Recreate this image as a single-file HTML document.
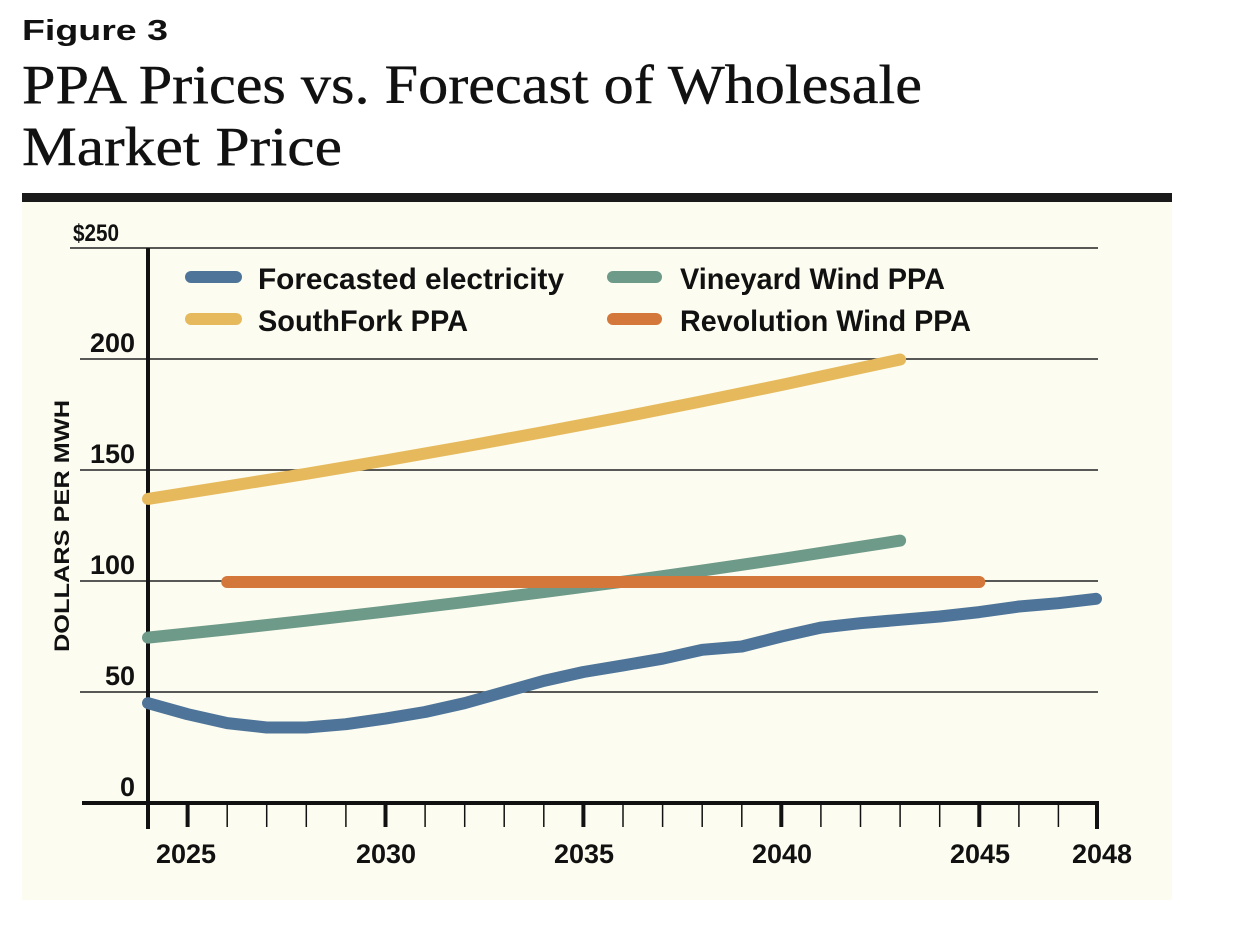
<!DOCTYPE html>
<html><head><meta charset="utf-8"><style>
html,body{margin:0;padding:0;background:#fff;}
svg{display:block;}
</style></head><body>
<svg width="1250" height="932" xmlns="http://www.w3.org/2000/svg">
<rect width="1250" height="932" fill="#fff"/>
<text x="22" y="40" font-family="Liberation Sans, sans-serif" font-weight="bold" font-size="29" fill="#111" textLength="146" lengthAdjust="spacingAndGlyphs">Figure 3</text>
<text x="22" y="103" font-family="Liberation Serif, serif" font-size="55" fill="#111" stroke="#111" stroke-width="0.4" textLength="900" lengthAdjust="spacingAndGlyphs">PPA Prices vs. Forecast of Wholesale</text>
<text x="22" y="165" font-family="Liberation Serif, serif" font-size="55" fill="#111" stroke="#111" stroke-width="0.4" textLength="320" lengthAdjust="spacingAndGlyphs">Market Price</text>
<rect x="22" y="202" width="1150" height="698" fill="#fdfcf0"/>
<rect x="22" y="193" width="1150" height="9" fill="#1a1a1a"/>
<g stroke="#222" stroke-width="1.5">
<line x1="70" y1="248" x2="1098" y2="248"/>
<line x1="80" y1="359" x2="1098" y2="359"/>
<line x1="80" y1="470" x2="1098" y2="470"/>
<line x1="80" y1="581" x2="1098" y2="581"/>
<line x1="80" y1="692" x2="1098" y2="692"/>
</g>
<g font-family="Liberation Sans, sans-serif" font-weight="bold" font-size="27" fill="#111" text-anchor="end">
<text x="119" y="241" font-size="24" textLength="46" lengthAdjust="spacingAndGlyphs">$250</text>
<text x="135" y="352">200</text>
<text x="135" y="463">150</text>
<text x="135" y="574">100</text>
<text x="135" y="685">50</text>
<text x="135" y="796">0</text>
</g>
<text transform="translate(69,526) rotate(-90)" font-family="Liberation Sans, sans-serif" font-weight="bold" font-size="21" fill="#111" text-anchor="middle" textLength="252" lengthAdjust="spacingAndGlyphs">DOLLARS PER MWH</text>
<line x1="82" y1="803" x2="1099" y2="803" stroke="#111" stroke-width="4"/>
<line x1="148" y1="248" x2="148" y2="829" stroke="#111" stroke-width="4"/>
<g stroke="#111" stroke-width="1.5">
<line x1="227.2" y1="803" x2="227.2" y2="827"/><line x1="266.7" y1="803" x2="266.7" y2="827"/><line x1="306.3" y1="803" x2="306.3" y2="827"/><line x1="345.9" y1="803" x2="345.9" y2="827"/>
<line x1="425.1" y1="803" x2="425.1" y2="827"/><line x1="464.7" y1="803" x2="464.7" y2="827"/><line x1="504.2" y1="803" x2="504.2" y2="827"/><line x1="543.8" y1="803" x2="543.8" y2="827"/>
<line x1="623" y1="803" x2="623" y2="827"/><line x1="662.6" y1="803" x2="662.6" y2="827"/><line x1="702.2" y1="803" x2="702.2" y2="827"/><line x1="741.8" y1="803" x2="741.8" y2="827"/>
<line x1="820.9" y1="803" x2="820.9" y2="827"/><line x1="860.5" y1="803" x2="860.5" y2="827"/><line x1="900.1" y1="803" x2="900.1" y2="827"/><line x1="939.7" y1="803" x2="939.7" y2="827"/>
<line x1="1018.9" y1="803" x2="1018.9" y2="827"/><line x1="1058.4" y1="803" x2="1058.4" y2="827"/>
</g>
<g stroke="#111" stroke-width="4">
<line x1="187.6" y1="803" x2="187.6" y2="827"/><line x1="385.5" y1="803" x2="385.5" y2="827"/><line x1="583.4" y1="803" x2="583.4" y2="827"/><line x1="781.3" y1="803" x2="781.3" y2="827"/><line x1="979.3" y1="803" x2="979.3" y2="827"/><line x1="1097" y1="801" x2="1097" y2="829"/>
</g>
<g font-family="Liberation Sans, sans-serif" font-weight="bold" font-size="27" fill="#111" text-anchor="middle">
<text x="186" y="863">2025</text>
<text x="386" y="863">2030</text>
<text x="584" y="863">2035</text>
<text x="782" y="863">2040</text>
<text x="980" y="863">2045</text>
<text x="1102" y="863">2048</text>
</g>
<g fill="none" stroke-width="12" stroke-linecap="round" stroke-linejoin="round">
<polyline stroke="#e6ba5c" points="148,498.9 227.2,486.4 306.3,473.8 385.5,460.4 464.7,446.5 543.8,432 623,417 702.2,401.2 781.3,385 900.1,359.5"/>
<polyline stroke="#6e9a89" points="148,637.6 227.2,629.4 306.3,620.7 385.5,611.6 464.7,602.1 543.8,592.1 623,581.7 702.2,570.6 781.3,559 900.1,540.6"/>
<polyline stroke="#d4773a" points="227.2,582 979.3,582"/>
<polyline stroke="#4e7599" points="148,703.1 187.6,714.2 227.2,723.1 266.7,727.5 306.3,727.5 345.9,724.2 385.5,718.6 425.1,712 464.7,703.1 504.2,692 543.8,680.9 583.4,672 623,665.4 662.6,658.7 702.2,649.8 741.8,646.5 781.3,636.5 820.9,627.6 860.5,623.2 900.1,619.8 939.7,616.5 979.3,612.1 1018.9,606.5 1058.4,603.2 1096,598.8"/>
</g>
<g stroke-width="12" stroke-linecap="round">
<line x1="191" y1="277" x2="236" y2="277" stroke="#4e7599"/>
<line x1="191" y1="319" x2="236" y2="319" stroke="#e6ba5c"/>
<line x1="613" y1="277" x2="656" y2="277" stroke="#6e9a89"/>
<line x1="613" y1="319" x2="656" y2="319" stroke="#d4773a"/>
</g>
<g font-family="Liberation Sans, sans-serif" font-weight="bold" font-size="30" fill="#111">
<text x="258" y="289" textLength="306" lengthAdjust="spacingAndGlyphs">Forecasted electricity</text>
<text x="258" y="331" textLength="210" lengthAdjust="spacingAndGlyphs">SouthFork PPA</text>
<text x="680" y="289" textLength="265" lengthAdjust="spacingAndGlyphs">Vineyard Wind PPA</text>
<text x="680" y="331" textLength="291" lengthAdjust="spacingAndGlyphs">Revolution Wind PPA</text>
</g>
</svg>
</body></html>
